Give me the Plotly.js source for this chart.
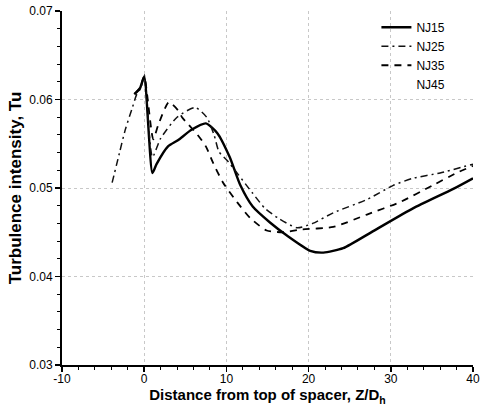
<!DOCTYPE html>
<html>
<head>
<meta charset="utf-8">
<script src="https://cdn.plot.ly/plotly-3.0.1.min.js"></script>
<style>html,body{margin:0;padding:0;background:#fff;}#chart{width:481px;height:414px;}</style>
</head>
<body>
<div id="chart"></div>
<script>
// Series names
var seriesNames = ["NJ15", "NJ25", "NJ35", "NJ45"];

// NJ15 (solid)
var nj15X = [-1.2, -0.5, 0, 1.0, 1.5, 2.9, 4.1, 5.8, 7.5, 8.9, 10.4, 11.7, 13.2, 15.3, 17.4, 20.2, 21.8, 24.2, 27.8, 32.7, 37.6, 40];
var nj15Y = [0.0606, 0.0613, 0.0626, 0.0517, 0.0527, 0.0547, 0.0554, 0.0566, 0.0573, 0.0562, 0.0535, 0.0503, 0.0479, 0.0461, 0.0446, 0.0429, 0.0427, 0.0432, 0.0451, 0.0477, 0.0499, 0.0511];

// NJ25 (dash-dot)
var nj25X = [-3.9, -3.0, -2.3, -1.5, -0.9, -0.4, 0, 1.0, 2.0, 4.0, 6.2, 7.6, 8.5, 9.1, 10.2, 13.2, 14.7, 16.3, 18.6, 20.5, 23.0, 27.1, 30.3, 32.7, 36.0, 40];
var nj25Y = [0.0506, 0.0540, 0.0566, 0.0589, 0.0606, 0.0613, 0.0628, 0.0535, 0.0556, 0.0580, 0.0591, 0.0580, 0.0560, 0.0541, 0.0530, 0.0494, 0.0477, 0.0466, 0.0455, 0.0460, 0.0472, 0.0487, 0.0503, 0.0511, 0.0517, 0.0527];

// NJ35 (dashed)
var nj35X = [-1.2, -0.5, 0, 1.1, 1.7, 3.0, 4.1, 4.6, 6.5, 7.5, 8.4, 9.6, 11.3, 12.9, 14.9, 17.0, 19.0, 23.0, 27.1, 31.1, 35.1, 38.0, 40];
var nj35Y = [0.0606, 0.0613, 0.0626, 0.0555, 0.0571, 0.0597, 0.0588, 0.0580, 0.0560, 0.0547, 0.0528, 0.0506, 0.0484, 0.0466, 0.0452, 0.0450, 0.0453, 0.0456, 0.0470, 0.0484, 0.0503, 0.0517, 0.0525];

// NJ45 (legend only, no visible curve)
var nj45X = [null];
var nj45Y = [null];

// Axis ticks
var xTickVals = [-10, 0, 10, 20, 30, 40];
var xTickText = ["-10", "0", "10", "20", "30", "40"];
var yTickVals = [0.03, 0.04, 0.05, 0.06, 0.07];
var yTickText = ["0.03", "0.04", "0.05", "0.06", "0.07"];

var traces = [
  {x: nj15X, y: nj15Y, name: seriesNames[0], mode: "lines", line: {color: "#000", width: 2.4, shape: "spline", smoothing: 0.6}},
  {x: nj25X, y: nj25Y, name: seriesNames[1], mode: "lines", line: {color: "#111", width: 1.5, dash: "7px,4px,2px,4px", shape: "spline", smoothing: 0.6}},
  {x: nj35X, y: nj35Y, name: seriesNames[2], mode: "lines", line: {color: "#000", width: 1.8, dash: "7px,6px", shape: "spline", smoothing: 0.6}},
  {x: nj45X, y: nj45Y, name: seriesNames[3], mode: "lines", line: {color: "rgba(0,0,0,0)", width: 1, dash: "dot"}}
];

var fam = "Liberation Sans, Arial, sans-serif";
var axisFont = {family: fam, size: 12, color: "#000"};

var layout = {
  width: 481, height: 414,
  margin: {l: 62, r: 8, t: 11, b: 49},
  paper_bgcolor: "#fff", plot_bgcolor: "#fff",
  showlegend: true,
  legend: {
    x: 0.765, xanchor: "left", y: 0.995, yanchor: "top",
    bgcolor: "rgba(0,0,0,0)", borderwidth: 0,
    font: {family: fam, size: 12, color: "#000"},
    tracegroupgap: 0
  },
  xaxis: {
    range: [-10, 40], tickvals: xTickVals, ticktext: xTickText,
    showline: true, linecolor: "#000", linewidth: 2, mirror: false,
    ticks: "outside", ticklen: 5, tickwidth: 1.5, tickcolor: "#000",
    ticklabelstandoff: -3,
    minor: {dtick: 2, ticks: "outside", ticklen: 3, tickwidth: 1, tickcolor: "#000", showgrid: false},
    showgrid: true, gridcolor: "#c8c8c8", gridwidth: 1, griddash: "dot",
    zeroline: false,
    tickfont: axisFont,
    title: {text: "<b>Distance from top of spacer, Z/D<sub>h</sub></b>", font: {family: fam, size: 15, color: "#000"}, standoff: 3}
  },
  yaxis: {
    range: [0.03, 0.07], tickvals: yTickVals, ticktext: yTickText,
    showline: true, linecolor: "#000", linewidth: 2, mirror: false,
    ticks: "outside", ticklen: 5, tickwidth: 1.5, tickcolor: "#000",
    minor: {dtick: 0.002, ticks: "outside", ticklen: 3, tickwidth: 1, tickcolor: "#000", showgrid: false},
    showgrid: true, gridcolor: "#c8c8c8", gridwidth: 1, griddash: "dot",
    zeroline: false,
    tickfont: axisFont,
    title: {text: "<b>Turbulence intensity, Tu</b>", font: {family: fam, size: 17, color: "#000"}, standoff: 3}
  }
};

Plotly.newPlot("chart", traces, layout, {staticPlot: true, displayModeBar: false});
</script>
</body>
</html>
